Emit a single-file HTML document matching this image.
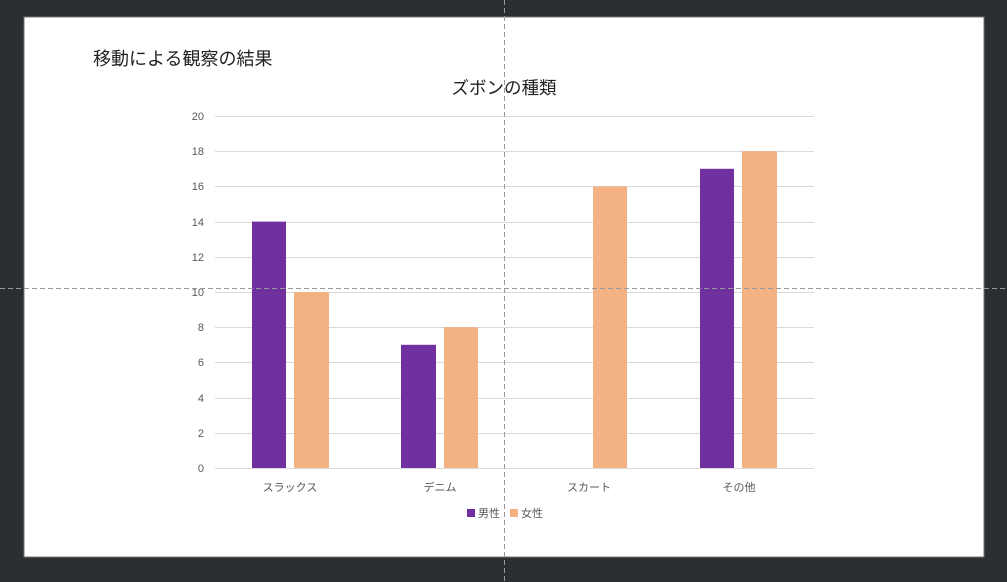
<!DOCTYPE html>
<html><head><meta charset="utf-8"><style>
body{margin:0;width:1007px;height:582px;background:#2b2e33;overflow:hidden;font-family:"Liberation Sans","Noto Sans CJK JP",sans-serif}
</style></head><body>
<svg width="1007" height="582" style="position:absolute;left:0;top:0" font-family="Liberation Sans, Noto Sans CJK JP, sans-serif">
<rect x="24" y="17" width="960" height="540" fill="#fff" stroke="#777" stroke-width="1"/>
<text x="93" y="65" font-size="18" fill="#222">移動による観察の結果</text>
<text x="504" y="94" font-size="17.5" fill="#222" text-anchor="middle">ズボンの種類</text>
<g stroke="#d9d9d9" stroke-width="1">
<line x1="215" x2="814" y1="116.5" y2="116.5"/><line x1="215" x2="814" y1="151.5" y2="151.5"/>
<line x1="215" x2="814" y1="186.5" y2="186.5"/><line x1="215" x2="814" y1="222.5" y2="222.5"/>
<line x1="215" x2="814" y1="257.5" y2="257.5"/><line x1="215" x2="814" y1="292.5" y2="292.5"/>
<line x1="215" x2="814" y1="327.5" y2="327.5"/><line x1="215" x2="814" y1="362.5" y2="362.5"/>
<line x1="215" x2="814" y1="398.5" y2="398.5"/><line x1="215" x2="814" y1="433.5" y2="433.5"/>
<line x1="215" x2="814" y1="468.5" y2="468.5"/>
</g>
<g font-size="11" fill="#595959" text-anchor="end">
<text x="204" y="120">20</text><text x="204" y="155">18</text><text x="204" y="190">16</text>
<text x="204" y="226">14</text><text x="204" y="261">12</text><text x="204" y="296">10</text>
<text x="204" y="331">8</text><text x="204" y="366">6</text><text x="204" y="402">4</text>
<text x="204" y="437">2</text><text x="204" y="472">0</text>
</g>
<g fill="#7030a0">
<rect x="252" y="221.6" width="34" height="246.4"/>
<rect x="401" y="344.8" width="35" height="123.2"/>
<rect x="700" y="168.8" width="34" height="299.2"/>
</g>
<g fill="#f4b183">
<rect x="294" y="292" width="35" height="176"/>
<rect x="444" y="327.2" width="34" height="140.8"/>
<rect x="593" y="186.4" width="34" height="281.6"/>
<rect x="742" y="151.2" width="35" height="316.8"/>
</g>
<g font-size="11" fill="#595959" text-anchor="middle">
<text x="290" y="491">スラックス</text><text x="440" y="491">デニム</text>
<text x="589" y="491">スカート</text><text x="739" y="491">その他</text>
</g>
<rect x="467" y="509" width="8" height="8" fill="#7030a0"/>
<text x="478" y="517" font-size="11" fill="#595959">男性</text>
<rect x="510" y="509" width="8" height="8" fill="#f4b183"/>
<text x="521" y="517" font-size="11" fill="#595959">女性</text>
<g stroke="#999" stroke-width="1" stroke-dasharray="5,3">
<line x1="504.5" y1="0" x2="504.5" y2="582"/>
<line x1="0" y1="288.5" x2="1007" y2="288.5"/>
</g>
</svg>
</body></html>
